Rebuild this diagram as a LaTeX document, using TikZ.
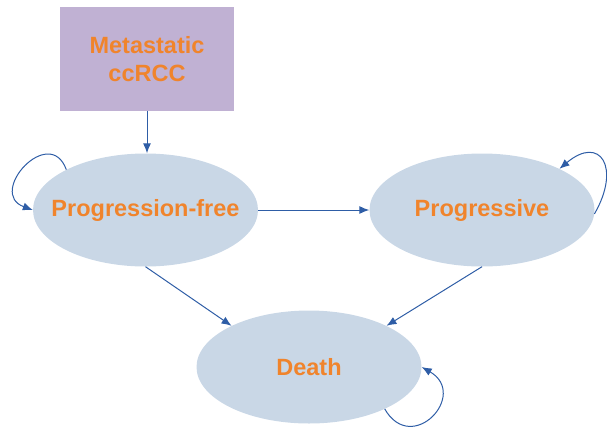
\documentclass[tikz,border=0pt]{standalone}
\usepackage{xcolor}
\usepackage{fontspec}
\setmainfont{Liberation Sans}
\usetikzlibrary{shapes,arrows,arrows.meta,positioning}
\definecolor{boxfill}{HTML}{C0B1D3}
\definecolor{statefill}{HTML}{C9D7E6}
\definecolor{labelorange}{HTML}{F0842C}
\definecolor{linkblue}{HTML}{2E5DA6}
\tikzstyle{origin} = [rectangle, fill=boxfill, text=labelorange, font=\bfseries\fontsize{23.5}{28}\selectfont, align=center, minimum width=174pt, minimum height=104pt, inner sep=0pt]
\tikzstyle{state} = [ellipse, fill=statefill, text=labelorange, font=\bfseries\fontsize{23.5}{28}\selectfont, minimum width=225pt, minimum height=113pt, inner xsep=-20pt, inner ysep=0pt]
\tikzstyle{line} = [draw=linkblue, line width=1pt, -{Latex[length=10pt,width=8pt]}]

\begin{document}
\begin{tikzpicture}[x=1pt, y=-1pt]
\useasboundingbox (0,0) rectangle (607,426);
\node [origin] (mccrcc) at (147,59) {Metastatic\\ccRCC};
\node [state] (pfree) at (145.5,210) {Progression-free};
\node [state] (progressive) at (482,210) {Progressive};
\node [state] (death) at (309,367) {Death};

\path [line] (mccrcc.south) -- (mccrcc.south |- pfree.north);
\path [line] (pfree) -- (progressive);
\path [line] (pfree.south) -- (death.152);
\path [line] (progressive.south) -- (death.28);
\path [line] (pfree.153) to [out=110, in=160, looseness=2.4] (pfree.180);
\path [line] (progressive.-2) to [out=60, in=40, looseness=2.4] (progressive.28);
\path [line] (death.-29) to [out=-60, in=-30, looseness=2.5] (death.0);
\end{tikzpicture}
\end{document}
